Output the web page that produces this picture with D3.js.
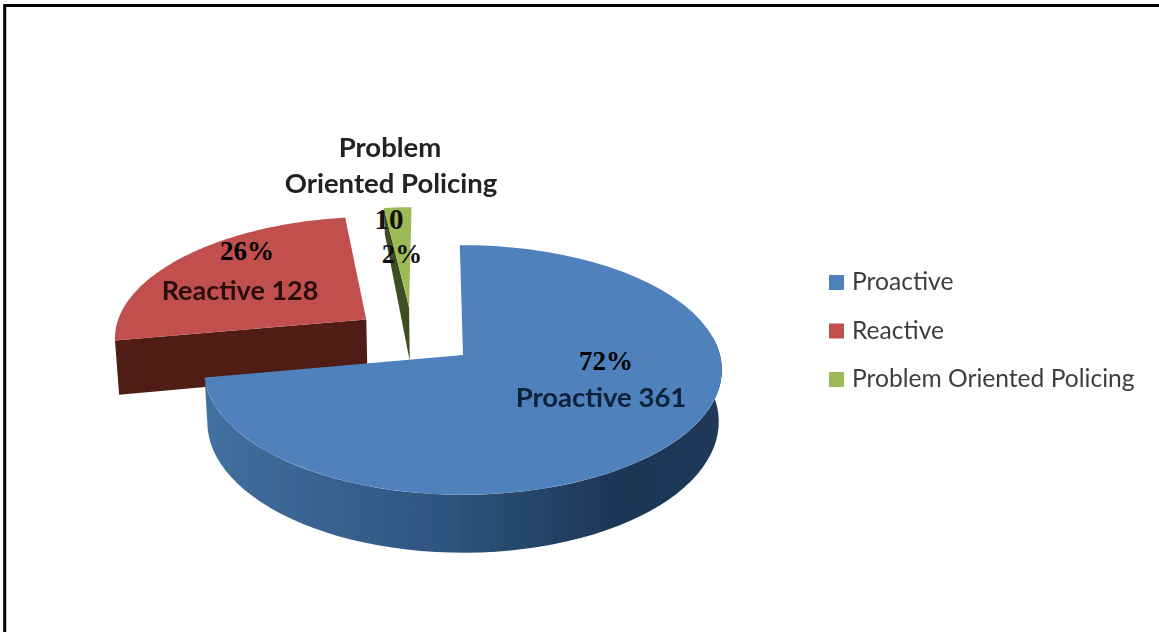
<!DOCTYPE html>
<html lang="en">
<head>
<meta charset="UTF-8">
<title>Policing styles</title>
<script src="https://d3js.org/d3.v7.min.js"></script>
<style>
  html, body { margin: 0; padding: 0; background: #fff; }
  svg { display: block; }
</style>
</head>
<body>
<svg id="chart" width="1159" height="632"></svg>
<script>
// data
var categories = ["Proactive", "Reactive", "Problem Oriented Policing"];
var counts = [361, 128, 10];
var percents = ["72%", "26%", "2%"];
var topColors = ["#4f81bd", "#c0504d", "#9bbb59"];

var width = 1159, height = 632;
var svg = d3.select("#chart");

// frame: only the top and left sides are there in the picture
svg.append("path")
  .attr("d", "M4.7," + height + "V5.5H" + width)
  .attr("fill", "none").attr("stroke", "#000").attr("stroke-width", 3);

// Pie plane -> screen, small perspective like the office 3d pie
var cx = 463, apexY = 355, rx = 257, k = 123, p = 0.12, depth = 51, shrink = 0.988;

function project(u, v) {
  var s = 1 / (1 - p * v);
  return [cx + rx * u * s, apexY + k * v * s];
}
function projectLow(u, v, wall) {
  var s = 1 / (1 - p * v), pt = project(u, v);
  return [cx + (pt[0] - cx) * shrink, pt[1] + depth * s * (wall || 1)];
}

// how far each slice is pulled out of the pie, in radius units
var explode = [[0, 0], [-0.39, -0.30], [-0.22, -0.405]];
// cut face height at [apex, rim] of the pulled out slices
var cutWall = [[1, 1], [1.08, 1.08], [1.1, 0.6]];

var pie = d3.pie().sort(null).startAngle(-0.014).endAngle(2 * Math.PI - 0.014);
var arcs = pie(counts);
var line = d3.line();

function rim(i, a0, a1) {
  var off = explode[i];
  return d3.range(0, 61).map(function(n) {
    var a = a0 + (a1 - a0) * n / 60;
    return project(off[0] + Math.sin(a), off[1] - Math.cos(a));
  });
}
function rimLow(i, a0, a1, wall) {
  var off = explode[i];
  return d3.range(0, 61).map(function(n) {
    var a = a0 + (a1 - a0) * n / 60;
    return projectLow(off[0] + Math.sin(a), off[1] - Math.cos(a), wall);
  });
}
function apex(i) { return project(explode[i][0], explode[i][1]); }

// side face along the first edge of a slice, top face over it
function drawPulledSlice(i, sideColor) {
  var d = arcs[i], a = d.startAngle, off = explode[i];
  g.append("path")
    .attr("d", line([apex(i), rim(i, a, a)[0], rimLow(i, a, a, cutWall[i][1])[0],
                     projectLow(off[0], off[1], cutWall[i][0])]) + "Z")
    .attr("fill", sideColor);
  g.append("path")
    .attr("d", line([apex(i)].concat(rim(i, d.startAngle, d.endAngle))) + "Z")
    .attr("fill", topColors[i]);
}

var defs = svg.append("defs");
var sideGrad = defs.append("linearGradient").attr("id", "blueSide")
  .attr("gradientUnits", "userSpaceOnUse").attr("x1", 207).attr("x2", 721).attr("y1", 0).attr("y2", 0);
[[0, "#42709f"], [0.12, "#3d6897"], [0.45, "#2f5580"], [0.8, "#1e3654"], [1, "#20395a"]].forEach(function(s) {
  sideGrad.append("stop").attr("offset", s[0]).attr("stop-color", s[1]);
});
defs.append("filter").attr("id", "soft").append("feGaussianBlur").attr("stdDeviation", 0.6);
defs.append("filter").attr("id", "softText").append("feGaussianBlur").attr("stdDeviation", 0.4);

var g = svg.append("g").attr("filter", "url(#soft)");

drawPulledSlice(1, "#4f1d19");
drawPulledSlice(2, "#3e5020");

// Proactive slice: outer wall, then top
var blue = arcs[0];
var wallStart = 1.42;
var upper = rim(0, wallStart, blue.endAngle);
var lower = rimLow(0, wallStart, blue.endAngle).reverse();
g.append("path").attr("d", line(upper.concat(lower)) + "Z").attr("fill", "url(#blueSide)");
g.append("path")
  .attr("d", line([apex(0)].concat(rim(0, blue.startAngle, blue.endAngle))) + "Z")
  .attr("fill", topColors[0]);

// labels on the slices
var sansFont = "Lato, 'Open Sans', sans-serif";
var serifFont = "'Liberation Serif', serif";

function label(txt, x, y, size, font, color) {
  svg.append("text").attr("x", x).attr("y", y)
    .attr("font-family", font).attr("font-size", size).attr("font-weight", "bold")
    .attr("text-anchor", "middle").attr("fill", color)
    .attr("filter", font === sansFont ? "url(#softText)" : null).text(txt);
}
label("Problem", 390, 157, 27.5, sansFont, "#222");
label("Oriented Policing", 391, 193, 27.5, sansFont, "#222");
label(String(counts[2]), 389, 229, 29, serifFont, "#111");
label(percents[2], 402, 263, 27, serifFont, "#111");
label(percents[1], 247, 260, 27, serifFont, "#000");
label(categories[1] + " " + counts[1], 240, 300, 27, sansFont, "#2c1010");
label(percents[0], 606, 370, 27, serifFont, "#000");
label(categories[0] + " " + counts[0], 601, 407, 27.5, sansFont, "#0e2138");

// legend
var legendY = d3.scalePoint().domain(categories).range([283, 380]);
var legend = svg.append("g").selectAll("g").data(categories).enter().append("g")
  .attr("transform", function(d) { return "translate(829," + legendY(d) + ")"; });
legend.append("rect").attr("y", -8).attr("width", 15).attr("height", 15)
  .attr("fill", function(d, i) { return topColors[i]; });
legend.append("text").attr("x", 23).attr("y", 7)
  .attr("font-family", sansFont).attr("font-size", 24.6).attr("fill", "#3e3e3e")
  .attr("filter", "url(#softText)")
  .text(function(d) { return d; });
</script>
</body>
</html>
